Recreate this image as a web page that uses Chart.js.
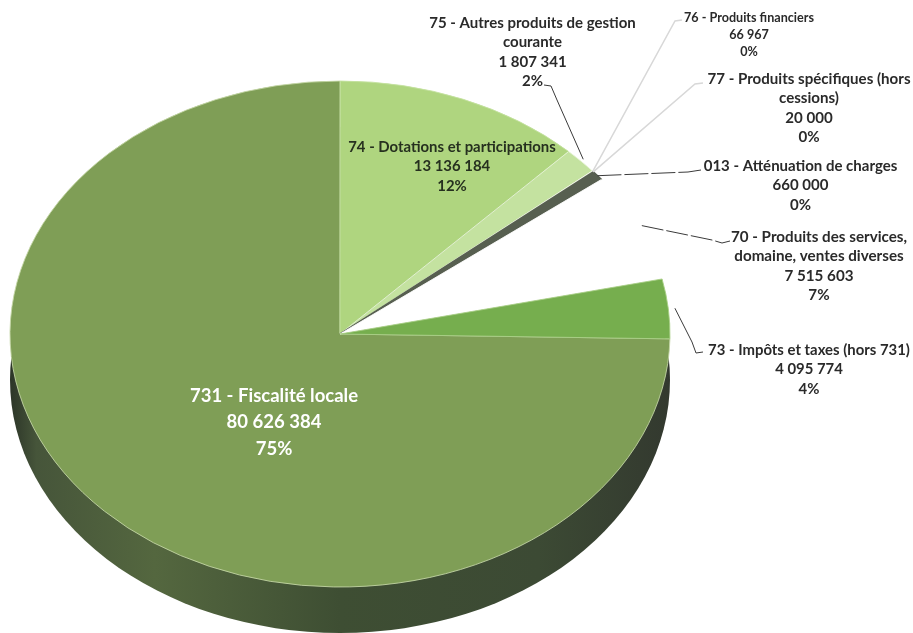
<!DOCTYPE html>
<html lang="fr">
<head>
<meta charset="utf-8">
<title>Recettes</title>
<style>
  html, body { margin: 0; padding: 0; background: #fff; }
  canvas { display: block; }
</style>
<script src="https://cdn.jsdelivr.net/npm/chart.js@4"></script>
</head>
<body>
<canvas id="myChart" width="913" height="633"></canvas>
<script>
const categories = [
  '731 - Fiscalité locale',
  '74 - Dotations et participations',
  '75 - Autres produits de gestion courante',
  '76 - Produits financiers',
  '77 - Produits spécifiques (hors cessions)',
  '013 - Atténuation de charges',
  '70 - Produits des services, domaine, ventes diverses',
  '73 - Impôts et taxes (hors 731)',
];
const amounts = [80626384, 13136184, 1807341, 66967, 20000, 660000, 7515603, 4095774];
const percents = ['75%', '12%', '2%', '0%', '0%', '0%', '7%', '4%'];
const sliceColors = ['#7f9e56', '#afd57f', '#c4e2a0', '#f2f6ea', '#f2f6ea', '#575f50', '#ffffff', '#76ae4e'];
const sliceBorders = ['#c4d6a6', '#c4e2a0', '#e6f2d6', '#f2f6ea', '#f2f6ea', '#575f50', '#ffffff', '#a9cf86'];
const sliceBorderWidths = [1, 1, 1, 1, 1, 2, 1, 1];

// how the labels wrap
const wrappedNames = [
  ['731 - Fiscalité locale'],
  ['74 - Dotations et participations'],
  ['75 - Autres produits de gestion', 'courante'],
  ['76 - Produits financiers'],
  ['77 - Produits spécifiques (hors', 'cessions)'],
  ['013 - Atténuation de charges'],
  ['70 - Produits des services,', 'domaine, ventes diverses'],
  ['73 - Impôts et taxes (hors 731)'],
];

// label placement, lead = radius factor on the slice then the points towards the text
const darkLine = '#3a3a3a';
const paleLine = '#d8d8d8';
const labelBoxes = [
  { x: 274, y: 396, gap: 26.5, font: 'bold 18.5px Lato', color: '#ffffff' },
  { x: 452, y: 147, gap: 19.5, font: 'bold 14.9px Lato', color: '#26301f' },
  { x: 532.5, y: 23, gap: 19.5, font: 'bold 15px Lato', color: '#2a2a2a', lead: { r: 1.01, pts: [[557, 100], [551, 86], [544, 85]], color: darkLine } },
  { x: 749, y: 18, gap: 17, font: 'bold 12.6px Lato', color: '#2a2a2a', lead: { r: 1.0, pts: [[675, 21], [682, 20]], color: paleLine, width: 1.5 } },
  { x: 809, y: 79, gap: 19.5, font: 'bold 15.1px Lato', color: '#2a2a2a', lead: { r: 1.0, pts: [[695, 84], [703, 83]], color: paleLine, width: 1.5 } },
  { x: 800.5, y: 166, gap: 19.5, font: 'bold 15px Lato', color: '#2a2a2a', lead: { r: 1.0, pts: [[688, 172], [701, 170]], color: darkLine, dash: [24, 3] } },
  { x: 819, y: 237, gap: 19.5, font: 'bold 15.2px Lato', color: '#2a2a2a', lead: { r: 1.01, pts: [[712, 240], [722, 243], [730, 241]], color: darkLine, dash: [22, 3] } },
  { x: 809, y: 350, gap: 19.5, font: 'bold 14.9px Lato', color: '#2a2a2a', lead: { r: 1.02, pts: [[692, 342], [696, 353], [703, 352]], color: darkLine } },
];

const faceRatio = 253 / 330; // pie is seen at an angle
const sideDepth = 46;

const fmt = (n) => String(n).replace(/\B(?=(\d{3})+$)/g, ' ');

const tiltedPie = {
  id: 'tiltedPie',
  beforeDatasetDraw(chart) {
    const { ctx } = chart;
    const arc = chart.getDatasetMeta(0).data[0];
    ctx.save();
    ctx.translate(0, arc.y);
    ctx.scale(1, faceRatio);
    ctx.translate(0, -arc.y);

    // side of the pie: same ellipse moved down, the face hides the rest
    const side = ctx.createLinearGradient(arc.x - arc.outerRadius, 0, arc.x + arc.outerRadius, 0);
    side.addColorStop(0, '#2c3528');
    side.addColorStop(0.04, '#46553a');
    side.addColorStop(0.22, '#54673f');
    side.addColorStop(0.5, '#3e4e33');
    side.addColorStop(0.8, '#3c4a34');
    side.addColorStop(1, '#33392f');
    ctx.fillStyle = side;
    ctx.beginPath();
    ctx.arc(arc.x, arc.y + sideDepth / faceRatio, arc.outerRadius, 0, Math.PI * 2);
    ctx.fill();
  },
  afterDatasetDraw(chart) {
    chart.ctx.restore();
  },
  afterDraw(chart) {
    const { ctx } = chart;
    const arcs = chart.getDatasetMeta(0).data;

    labelBoxes.forEach((box, i) => {
      if (box.lead) {
        const arc = arcs[i];
        const mid = (arc.startAngle + arc.endAngle) / 2;
        const r = arc.outerRadius * box.lead.r;
        ctx.beginPath();
        ctx.moveTo(arc.x + Math.cos(mid) * r, arc.y + Math.sin(mid) * r * faceRatio);
        box.lead.pts.forEach((p) => ctx.lineTo(p[0], p[1]));
        ctx.strokeStyle = box.lead.color;
        ctx.lineWidth = box.lead.width || 1;
        ctx.setLineDash(box.lead.dash || []);
        ctx.stroke();
        ctx.setLineDash([]);
      }

      const lines = wrappedNames[i].concat([fmt(amounts[i]), percents[i]]);
      ctx.font = box.font;
      ctx.fillStyle = box.color;
      ctx.textAlign = 'center';
      ctx.textBaseline = 'middle';
      lines.forEach((line, n) => ctx.fillText(line, box.x, box.y + n * box.gap));
    });
  },
};

const chartData = {
  labels: categories,
  datasets: [
    {
      label: 'Recettes',
      data: amounts,
      backgroundColor: sliceColors,
      borderColor: sliceBorders,
      borderWidth: sliceBorderWidths,
      radius: 330,
      clip: false,
    },
  ],
};

const config = {
  type: 'pie',
  data: chartData,
  options: {
    responsive: false,
    animation: false,
    events: [],
    rotation: 91.1,
    layout: { padding: { top: 35, right: 233 } },
    plugins: {
      legend: { display: false },
      tooltip: { enabled: false },
    },
  },
  plugins: [tiltedPie],
};

const myChart = new Chart(document.getElementById('myChart'), config);
</script>
</body>
</html>
